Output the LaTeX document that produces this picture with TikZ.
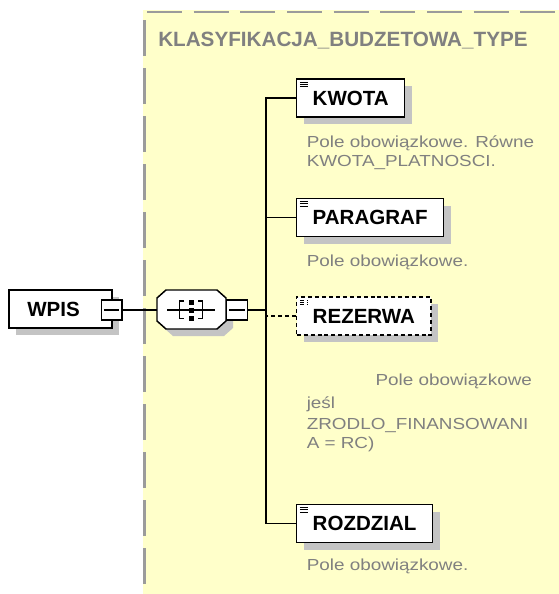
\documentclass[tikz,border=0pt]{standalone}
\usepackage{fontspec}
\setmainfont{Liberation Sans}
\newfontfamily\descfont[FakeStretch=1.18]{Liberation Sans}
\usetikzlibrary{shadows}
\definecolor{bgyellow}{RGB}{255,255,202}
\definecolor{txtgray}{RGB}{128,128,128}
\definecolor{bordergray}{RGB}{155,155,155}
\definecolor{shadowgray}{RGB}{196,196,196}
\begin{document}
\begin{tikzpicture}[x=0.75pt,y=-0.75pt,
  elem/.style={draw=black, line width=1.1pt, fill=white, minimum height=28.5pt,
    inner xsep=12pt, inner ysep=0pt, font=\fontsize{15.4}{18}\selectfont\bfseries,
    general shadow={fill=shadowgray, shadow xshift=5.25pt, shadow yshift=-5.25pt}},
  child/.style={elem, anchor=west,
    path picture={\foreach \k in {0,1,2}
      \draw[line width=0.7pt] ([xshift=2.4pt,yshift=-2.3pt-\k*1.75pt]path picture bounding box.north west) -- ++(6pt,0);}},
  minusbox/.style={draw=black, line width=1pt, fill=white, minimum width=15.5pt, minimum height=15pt, inner sep=0pt},
  conn/.style={line width=1.1pt, black},
  desc/.style={font=\descfont\fontsize{12}{13.9}\selectfont, text=txtgray, anchor=base west, inner sep=0pt, align=left},
  title/.style={font=\fontsize{15.5}{18}\selectfont\bfseries, text=txtgray, anchor=base west, inner sep=0pt}
]
\useasboundingbox (0,0) rectangle (559,594);
% complex type area
\fill[bgyellow] (143,10) rectangle (559,594);
\draw[bordergray, line width=1.9pt, dash pattern=on 26.25pt off 8.75pt] (147,12) -- (559,12);
\draw[bordergray, line width=1.9pt, dash pattern=on 27pt off 9pt] (144.5,20) -- (144.5,594);
\node[title] (typename) at (158,46.5) {KLASYFIKACJA\_BUDZETOWA\_TYPE};

% root element
\node[elem, minimum width=77.25pt] (wpis) at (60.5,309) {\hspace*{-10.5pt}WPIS};
\node[minusbox] (wpism) at (111.5,310) {};
\draw[line width=1pt] ([xshift=2.6pt]wpism.west) -- ([xshift=-2.6pt]wpism.east);

% sequence compositor
\node[minimum width=51.75pt, minimum height=29pt, inner sep=0pt] (seq) at (191.5,310) {};
\fill[shadowgray] (173,297) -- (224,297) -- (233,305) -- (233,328) -- (224,336) -- (173,336) -- (164,328) -- (164,305) -- cycle;
\draw[line width=1.1pt, fill=white] (166,290) -- (217,290) -- (226,298) -- (226,321) -- (217,329) -- (166,329) -- (157,321) -- (157,298) -- cycle;
\draw[line width=1pt] (167,310) -- (215,310);
\draw[line width=1.1pt] (184,301) -- (179.5,301) -- (179.5,318.5) -- (184,318.5);
\draw[line width=1.1pt] (198,301) -- (202.5,301) -- (202.5,318.5) -- (198,318.5);
\fill (189,299.5) rectangle (194,304.5);
\fill (189,307.5) rectangle (194,312.5);
\fill (189,315.5) rectangle (194,320.5);
\node[minusbox] (seqm) at (237,310) {};
\draw[line width=1pt] ([xshift=2.6pt]seqm.west) -- ([xshift=-2.6pt]seqm.east);

% children
\node[child] (kwota) at (296,98) {KWOTA};
\node[child] (paragraf) at (296,217.5) {PARAGRAF};
\node[child, dash pattern=on 3pt off 2.2pt] (rezerwa) at (296,316) {REZERWA};
\node[child] (rozdzial) at (296,523.5) {ROZDZIAL};

% connectors
\coordinate (trunk) at (266,310);
\draw[conn] (wpism.east) -- (seq.west);
\draw[conn] (seqm.east) -- (trunk);
\draw[conn] (kwota.west) -| (trunk |- rozdzial.west) -- (rozdzial.west);
\draw[conn] (paragraf.west) -- (paragraf.west -| trunk);
\draw[conn, dash pattern=on 3pt off 2.2pt] (rezerwa.west) -- (rezerwa.west -| trunk);

% descriptions (base anchor = baseline of last line)
\node[desc] (dkwota) at (306.5,166) {Pole obowiązkowe. Równe\\KWOTA\_PLATNOSCI.};
\node[desc] (dparagraf) at (306.5,266) {Pole obowiązkowe.};
\node[desc] (drezerwa) at (306.5,448.3) {\makebox[168.9pt][r]{Pole obowiązkowe}\\[3.6pt]jeśl\\[1.9pt]ZRODLO\_FINANSOWANI\\A = RC)};
\node[desc] (drozdzial) at (306.5,570) {Pole obowiązkowe.};
\end{tikzpicture}
\end{document}
